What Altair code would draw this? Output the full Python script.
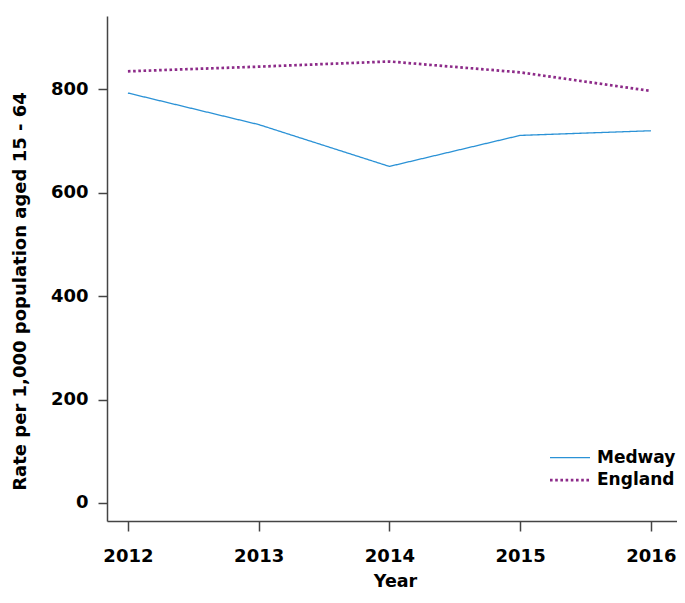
import altair as alt
import pandas as pd

# ---- data ----
years = [2012, 2013, 2014, 2015, 2016]
medway = [793, 732, 651, 711, 720]
england = [835, 844, 854, 833, 797]
series_names = ["Medway", "England"]
series_colors = ["#2b92d6", "#8d2b89"]
y_ticks = [0, 200, 400, 600, 800]

df = pd.DataFrame({
    "Year": years + years,
    "Rate": medway + england,
    "Series": [series_names[0]] * len(years) + [series_names[1]] * len(years),
})

FONT = "DejaVu Sans"
AXIS_COL = "#444444"

chart = alt.Chart(df).mark_line().encode(
    x=alt.X(
        "Year:Q",
        scale=alt.Scale(domain=[2011.84, 2016.2], nice=False, zero=False),
        axis=alt.Axis(
            values=years, format="d", title="Year",
            titleX=288, titleY=60, titleAlign="center", titleBaseline="middle",
            labelPadding=16, tickSize=10,
        ),
    ),
    y=alt.Y(
        "Rate:Q",
        scale=alt.Scale(domain=[-35, 942], nice=False, zero=False),
        axis=alt.Axis(
            values=y_ticks, title="Rate per 1,000 population aged 15 - 64",
            titleX=-87, titleY=275, titleAngle=270, titleAlign="center",
            titleBaseline="middle", labelPadding=10, tickSize=9,
        ),
    ),
    color=alt.Color(
        "Series:N",
        scale=alt.Scale(domain=series_names, range=series_colors),
        legend=alt.Legend(title=None),
    ),
    strokeDash=alt.StrokeDash(
        "Series:N",
        scale=alt.Scale(domain=series_names, range=[[1, 0], [2.6, 2.6]]),
        legend=alt.Legend(title=None),
    ),
    strokeWidth=alt.StrokeWidth(
        "Series:N",
        scale=alt.Scale(type="ordinal", domain=series_names, range=[1.3, 2.7]),
        legend=alt.Legend(title=None),
    ),
).properties(
    width=570,
    height=505,
    autosize=alt.AutoSizeParams(type="none"),
    padding={"left": 99, "top": 8, "right": 0, "bottom": 70},
).configure_view(
    stroke=None
).configure_axis(
    grid=False,
    domainColor=AXIS_COL, domainWidth=1.5,
    tickColor=AXIS_COL, tickWidth=1.5,
    labelFont=FONT, labelFontSize=18, labelFontWeight="bold", labelColor="black",
    titleFont=FONT, titleFontSize=17.5, titleFontWeight="bold", titleColor="black",
).configure_axisY(
    titleFontSize=18,
).configure_legend(
    orient="none", legendX=451.5, legendY=430.7, padding=0,
    symbolType="M-2,0L2,0", symbolSize=400,
    labelFont=FONT, labelFontSize=17, labelFontWeight="bold", labelColor="black",
    labelOffset=15.5, rowPadding=3,
)

chart.save("out.html", embed_options={"renderer": "svg", "actions": False})
